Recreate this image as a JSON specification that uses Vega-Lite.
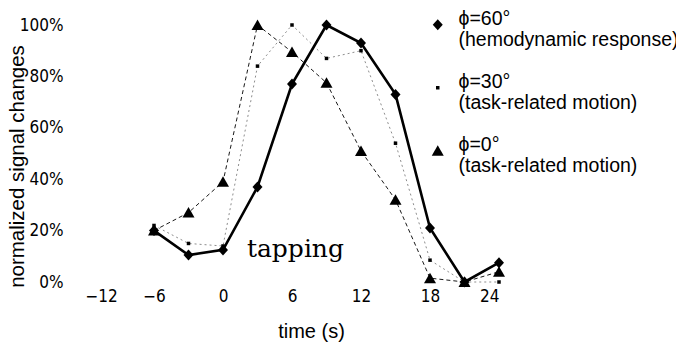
{
  "$schema": "https://vega.github.io/schema/vega-lite/v6.json",
  "width": 414,
  "height": 257,
  "autosize": {"type": "none"},
  "padding": {"left": 85, "top": 25, "right": 177, "bottom": 69},
  "background": "white",
  "config": {
    "view": {"stroke": null},
    "font": "Liberation Sans",
    "axis": {"grid": false, "domain": false, "ticks": false, "labelColor": "black", "titleColor": "black", "titleFontWeight": "normal"}
  },
  "data": {
    "values": [
      {"t": -6, "v": 20, "s": "60"}, {"t": -3, "v": 10.5, "s": "60"}, {"t": 0, "v": 12.5, "s": "60"},
      {"t": 3, "v": 37, "s": "60"}, {"t": 6, "v": 77, "s": "60"}, {"t": 9, "v": 100, "s": "60"},
      {"t": 12, "v": 93, "s": "60"}, {"t": 15, "v": 73, "s": "60"}, {"t": 18, "v": 21, "s": "60"},
      {"t": 21, "v": 0, "s": "60"}, {"t": 24, "v": 7.5, "s": "60"},
      {"t": -6, "v": 22, "s": "30"}, {"t": -3, "v": 15, "s": "30"}, {"t": 0, "v": 14, "s": "30"},
      {"t": 3, "v": 84, "s": "30"}, {"t": 6, "v": 100, "s": "30"}, {"t": 9, "v": 87, "s": "30"},
      {"t": 12, "v": 90, "s": "30"}, {"t": 15, "v": 54, "s": "30"}, {"t": 18, "v": 8.5, "s": "30"},
      {"t": 21, "v": 0, "s": "30"}, {"t": 24, "v": 0, "s": "30"},
      {"t": -6, "v": 20, "s": "0"}, {"t": -3, "v": 27, "s": "0"}, {"t": 0, "v": 39, "s": "0"},
      {"t": 3, "v": 100, "s": "0"}, {"t": 6, "v": 89.5, "s": "0"}, {"t": 9, "v": 77.5, "s": "0"},
      {"t": 12, "v": 51, "s": "0"}, {"t": 15, "v": 32, "s": "0"}, {"t": 18, "v": 1.5, "s": "0"},
      {"t": 21, "v": 0, "s": "0"}, {"t": 24, "v": 4, "s": "0"}
    ]
  },
  "encoding": {
    "x": {"field": "t", "type": "quantitative",
      "scale": {"domain": [-12, 24], "nice": false, "zero": false},
      "axis": {"values": [-12, -6, 0, 6, 12, 18, 24], "labelFont": "DejaVu Sans Condensed, Liberation Sans", "labelFontSize": 17, "labelPadding": 6, "title": "time (s)", "titleFontSize": 20, "titleX": 226, "titlePadding": 17}},
    "y": {"field": "v", "type": "quantitative",
      "scale": {"domain": [0, 100], "nice": false},
      "axis": {"values": [0, 20, 40, 60, 80, 100], "labelExpr": "datum.value + '%'", "labelFont": "DejaVu Sans Condensed, Liberation Sans", "labelFontSize": 17, "labelPadding": 22, "title": "normalized signal changes", "titleFontSize": 20.5, "titleX": -58, "titleY": 141}}
  },
  "layer": [
    {
      "transform": [{"filter": "datum.s == '0'"}],
      "mark": {"type": "line", "color": "black", "strokeWidth": 1, "strokeDash": [4, 3], "opacity": 0.9}
    },
    {
      "transform": [{"filter": "datum.s == '30'"}],
      "mark": {"type": "line", "color": "black", "strokeWidth": 1, "strokeDash": [2, 3], "opacity": 0.45}
    },
    {
      "transform": [{"filter": "datum.s == '60'"}],
      "mark": {"type": "line", "color": "black", "strokeWidth": 2.6}
    },
    {
      "mark": {"type": "point", "filled": true, "color": "black", "opacity": 1, "size": 100},
      "encoding": {
        "shape": {"field": "s", "type": "nominal",
          "scale": {"domain": ["60", "30", "0"], "range": ["M0,-1.1L1,0L0,1.1L-1,0Z", "M-0.35,-0.35L0.35,-0.35L0.35,0.35L-0.35,0.35Z", "M0,-1.1L1.2,1L-1.2,1Z"]},
          "legend": {
            "title": null, "orient": "none", "legendX": 343, "legendY": -10, "padding": 0,
            "labelFont": "Liberation Sans", "labelFontSize": 19.5, "labelColor": "black", "labelOffset": 11, "labelLimit": 400,
            "labelBaseline": "alphabetic",
            "rowPadding": 21, "symbolSize": 100, "symbolFillColor": "black", "symbolStrokeColor": "black",
            "labelExpr": "datum.value == '60' ? ['ϕ=60°', '(hemodynamic response)'] : datum.value == '30' ? ['ϕ=30°', '(task-related motion)'] : ['ϕ=0°', '(task-related motion)']"
          }}
      }
    },
    {
      "data": {"values": [{"t": 6.3, "v": 9.8, "label": "tapping"}]},
      "mark": {"type": "text", "font": "DejaVu Serif", "fontSize": 25, "baseline": "alphabetic", "align": "center", "color": "black"},
      "encoding": {"text": {"field": "label"}}
    }
  ]
}
